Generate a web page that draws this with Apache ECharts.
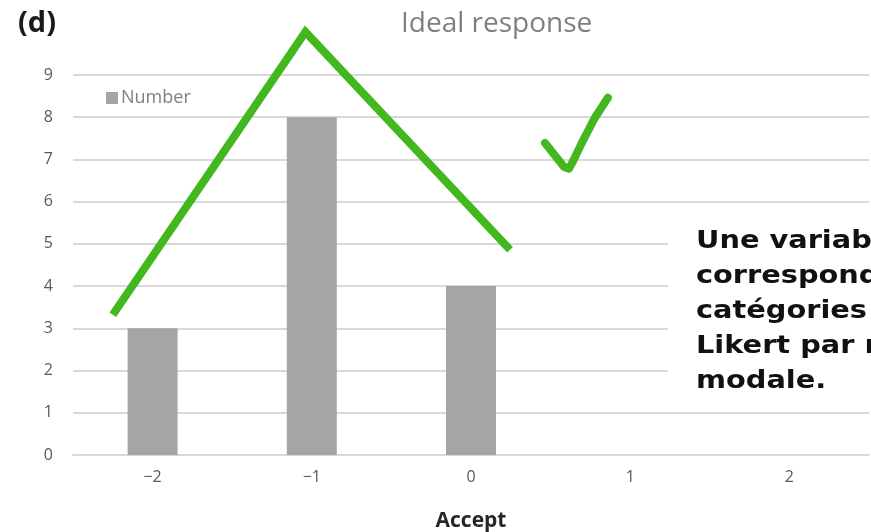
<!DOCTYPE html>
<html>
<head>
<meta charset="utf-8">
<script src="https://cdn.jsdelivr.net/npm/echarts@6/dist/echarts.min.js"></script>
<style>
  html, body { margin: 0; padding: 0; background: #fff; }
  #chart { width: 871px; height: 532px; }
</style>
</head>
<body>
<div id="chart"></div>
<script>
// Response categories on the Likert "Accept" scale
const categories = ['\u22122', '\u22121', '0', '1', '2'];
// Number of responses per category
const counts = [3, 8, 4, 0, 0];
// Y axis tick range
const yTicks = { min: 0, max: 9, step: 1 };

// Hand-drawn green annotation: peak outline over the distribution (Accept value, count)
const peakOutline = [[-2.25, 3.32], [-1.04, 10.02], [0.245, 4.86]];
// Hand-drawn check mark (Accept value, count)
const checkMark = [[0.465, 7.39], [0.585, 6.82], [0.615, 6.78], [0.64, 6.95], [0.705, 7.46], [0.78, 8.0], [0.86, 8.46]];

// Side note text
const noteLines = ['Une variable', 'correspondant', 'catégories', 'Likert par réponse', 'modale.'];

const FONT = "'Open Sans', 'Noto Sans', sans-serif";
const NOTE_FONT = "'DejaVu Sans', 'Noto Sans', sans-serif";
const GREEN = '#42b81e';

const chart = echarts.init(document.getElementById('chart'), null, { renderer: 'canvas' });

chart.setOption({
  backgroundColor: '#ffffff',
  animation: false,
  title: {
    text: 'Ideal response',
    left: 396,
    top: 5,
    textStyle: { fontFamily: FONT, fontSize: 28, fontWeight: 'normal', color: '#7f7f7f' }
  },
  legend: {
    data: ['Number'],
    left: 101,
    top: 84,
    itemWidth: 12,
    itemHeight: 12,
    itemGap: 4,
    icon: 'rect',
    textStyle: { fontFamily: FONT, fontSize: 18, color: '#7f7f7f', padding: [0, 0, 0, -2] }
  },
  grid: { left: 73, right: 2, top: 75, bottom: 77, outerBoundsMode: 'none', containLabel: false },
  xAxis: [
    {
      type: 'category',
      data: categories,
      name: 'Accept',
      nameLocation: 'middle',
      nameGap: 56,
      nameTextStyle: { fontFamily: FONT, fontSize: 21, fontWeight: 'bold', color: '#262626' },
      axisLine: { lineStyle: { color: '#d9d9d9', width: 2 } },
      axisTick: { show: false },
      axisLabel: { fontFamily: FONT, fontSize: 16, color: '#595959', margin: 14 }
    },
    {
      type: 'value',
      min: -2.5,
      max: 2.5,
      show: false
    }
  ],
  yAxis: {
    type: 'value',
    min: yTicks.min,
    max: yTicks.max,
    interval: yTicks.step,
    axisLine: { show: false },
    axisTick: { show: false },
    axisLabel: { fontFamily: FONT, fontSize: 16, color: '#595959', margin: 20 },
    splitLine: { lineStyle: { color: '#d9d9d9', width: 2 } }
  },
  series: [
    {
      name: 'Number',
      type: 'bar',
      data: counts,
      barWidth: 50,
      itemStyle: { color: '#a5a5a7' },
      z: 2
    },
    {
      name: 'outline',
      type: 'line',
      xAxisIndex: 1,
      data: peakOutline,
      symbol: 'none',
      clip: false,
      lineStyle: { color: GREEN, width: 8, join: 'miter', cap: 'butt' },
      z: 5
    },
    {
      name: 'check',
      type: 'line',
      xAxisIndex: 1,
      data: checkMark,
      symbol: 'none',
      clip: false,
      lineStyle: { color: GREEN, width: 8, join: 'round', cap: 'round' },
      z: 5
    }
  ],
  graphic: [
    {
      type: 'text',
      left: 18,
      top: 9,
      style: { text: '(d)', fontFamily: FONT, fontSize: 29, fontWeight: 'bold', fill: '#1a1a1a' }
    },
    {
      type: 'rect',
      left: 668,
      top: 222,
      zlevel: 1,
      shape: { width: 210, height: 178 },
      style: { fill: '#ffffff' }
    },
    {
      type: 'text',
      x: 696,
      y: 224,
      scaleX: 1.2,
      zlevel: 1,
      z: 20,
      style: {
        text: noteLines.join('\n'),
        fontFamily: NOTE_FONT,
        fontSize: 24,
        fontWeight: 'bold',
        lineHeight: 35,
        fill: '#111111'
      }
    }
  ]
});
</script>
</body>
</html>
